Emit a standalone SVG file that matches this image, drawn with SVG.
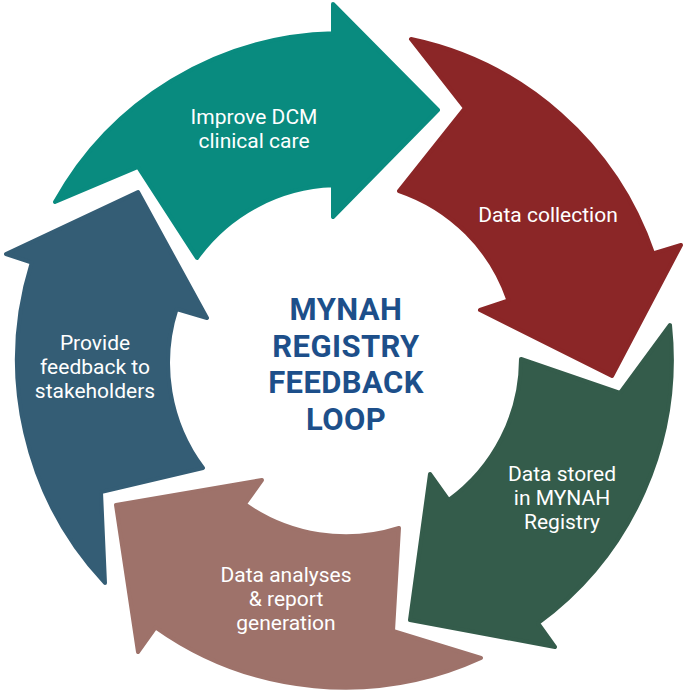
<svg xmlns="http://www.w3.org/2000/svg" width="688" height="692" viewBox="0 0 688 692">
<style>
.arrow { stroke-linejoin: round; stroke-width: 4; }
.lbl { font-family: Roboto, "Liberation Sans", sans-serif; font-size: 21px; fill: #ffffff; text-anchor: middle; }
.ctr { font-family: Roboto, "Liberation Sans", sans-serif; font-size: 31px; font-weight: bold; fill: #1d4f8a; text-anchor: middle; letter-spacing: 0.4px; }
</style>
<rect width="688" height="692" fill="#ffffff"/>
<g id="connectors"></g>
<g id="node-improve">
<path class="arrow" fill="#098b7f" stroke="#098b7f" d="M 55 202 A 327 327 0 0 1 333 33.2 L 333 4 L 438 110 L 333 217 L 333 185.3 A 175 175 0 0 0 197 258 L 138 167 Z"/>
<text class="lbl" x="254" y="124">Improve DCM</text>
<text class="lbl" x="254" y="148">clinical care</text>
</g>
<g id="node-collection">
<path class="arrow" fill="#8b2627" stroke="#8b2627" d="M 411 39 A 327 327 0 0 1 653.1 253.4 L 681 245 L 612 376 L 480 310 L 508.5 300.4 A 175 175 0 0 0 399 191 L 465 108 Z"/>
<text class="lbl" x="548" y="222">Data collection</text>
</g>
<g id="node-stored">
<path class="arrow" fill="#345c4b" stroke="#345c4b" d="M 670 325 A 327 327 0 0 1 538 623.2 L 555 647 L 410 620 L 430 474 L 448.7 500.2 A 175 175 0 0 0 521 359 L 620 393 Z"/>
<text class="lbl" x="562" y="481">Data stored</text>
<text class="lbl" x="562" y="505">in MYNAH</text>
<text class="lbl" x="562" y="529">Registry</text>
</g>
<g id="node-analyses">
<path class="arrow" fill="#9e726a" stroke="#9e726a" d="M 481 658 A 327 327 0 0 1 155.6 627.3 L 138 652 L 116 505 L 262 480 L 244.8 504.2 A 175 175 0 0 0 399 528 L 393 631 Z"/>
<text class="lbl" x="286" y="582">Data analyses</text>
<text class="lbl" x="286" y="606">&amp; report</text>
<text class="lbl" x="286" y="630">generation</text>
</g>
<g id="node-feedback">
<path class="arrow" fill="#345d75" stroke="#345d75" d="M 105 583 A 327 327 0 0 1 31.8 262.6 L 6 254 L 138 192 L 207 318 L 176.6 309 A 175 175 0 0 0 203 468 L 101 492 Z"/>
<text class="lbl" x="95" y="350">Provide</text>
<text class="lbl" x="95" y="374">feedback to</text>
<text class="lbl" x="95" y="398">stakeholders</text>
</g>
<g id="node-center">
<text class="ctr" x="346" y="320">MYNAH</text>
<text class="ctr" x="346" y="357">REGISTRY</text>
<text class="ctr" x="346" y="393">FEEDBACK</text>
<text class="ctr" x="346" y="430">LOOP</text>
</g>
</svg>
